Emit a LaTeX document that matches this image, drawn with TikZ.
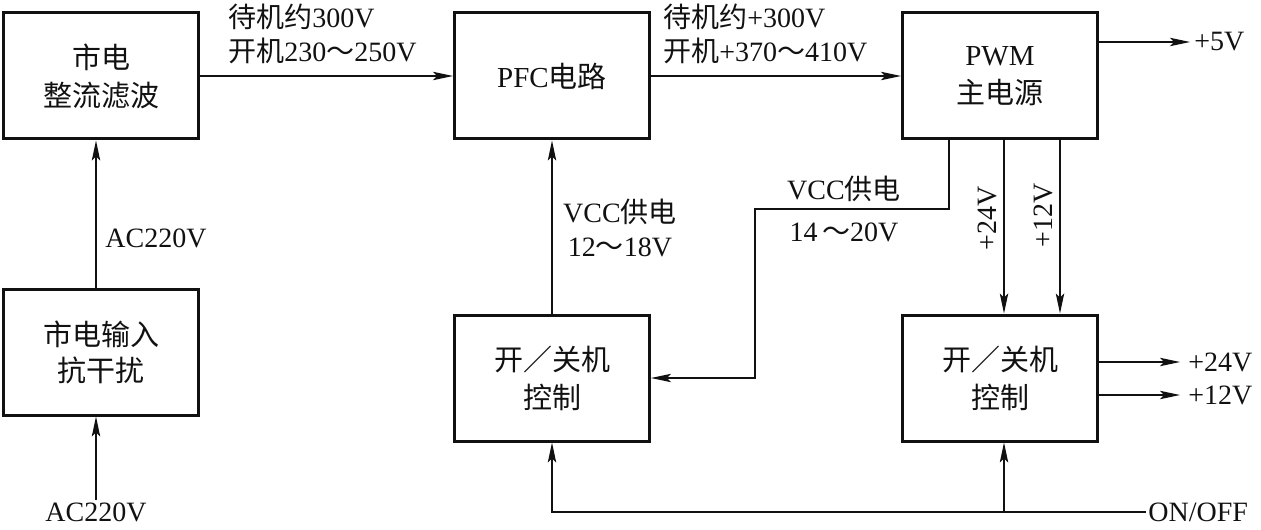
\documentclass[tikz,border=0pt]{standalone}
\usepackage{fontspec}
\usepackage{tikz}
\usetikzlibrary{arrows.meta,positioning,calc}
\setmainfont{Liberation Serif}
\newfontfamily\cjk{Noto Sans CJK SC}
\newcommand{\zh}[1]{{\cjk #1}}
\newcommand{\lblfont}{\fontsize{14}{17}\selectfont}
\newcommand{\boxfont}{\fontsize{14.5}{17}\selectfont}
\definecolor{ink}{HTML}{111111}
\tikzset{
  unit/.style={draw=ink, line width=1.5pt, minimum width=97.5pt, minimum height=63pt,
               align=center, inner sep=0pt, font=\boxfont, text=ink},
  feed/.style={-{Stealth[length=10pt,width=4.2pt,inset=2pt]}, line width=0.6pt, draw=ink},
  wire/.style={line width=0.6pt, draw=ink},
  tag/.style={font=\lblfont, inner sep=1pt, text=ink}
}

\begin{document}
\begin{tikzpicture}[x=0.5pt,y=-0.5pt]
  \useasboundingbox (0,0) rectangle (1261,529);
  \node[unit] (rect) at (101,76) {\zh{市电}\\[2pt]\zh{整流滤波}};
  \node[unit] (emi) at (101,352) {\zh{市电输入}\\[1pt]\zh{抗干扰}};
  \node[unit] (pfc) at (552,76) {PFC\zh{电路}};
  \node[unit] (pwm) at (1000,76) {PWM\\[2pt]\zh{主电源}};
  \node[unit] (ctll) at (552,378) {\zh{开／关机}\\[2pt]\zh{控制}};
  \node[unit] (ctlr) at (1000,378) {\zh{开／关机}\\[2pt]\zh{控制}};

  \node[tag] (acin) at (96,512) {AC220V};
  \draw[feed] (acin.north) -- (acin.north |- emi.south);
  \draw[feed] (acin.north |- emi.north) -- (acin.north |- rect.south);
  \node[tag,anchor=west] at (103,238) {AC220V};

  \draw[feed] (rect.east) -- (pfc.west);
  \node[tag,anchor=west,align=left] at (226,34) {\zh{待机约}300V\\\zh{开机}230\zh{～}250V};
  \draw[feed] (pfc.east) -- (pwm.west);
  \node[tag,anchor=west,align=left] at (661,34) {\zh{待机约}+300V\\\zh{开机}+370\zh{～}410V};

  \coordinate (out5) at (1190,42);
  \draw[feed] (pwm.east |- out5) -- (out5);
  \node[tag,anchor=west] at (1192,42) {+5V};

  \draw[feed] (ctll.north) -- (pfc.south);
  \node[tag,align=center] at (620,228) {VCC\zh{供电}\\12\zh{～}18V};

  \coordinate (bend) at (755,209);
  \draw[feed] ($(pwm.south west)+(48,0)$) |- (bend) |- (ctll.east);
  \node[tag,align=center] at (844,209) {VCC\zh{供电}\\[4pt]14\,\zh{～}20V};

  \path (pwm.south west) ++(103,0) coordinate (c24) ++(56,0) coordinate (c12);
  \draw[feed] (c24) -- (c24 |- ctlr.north);
  \draw[feed] (c12) -- (c12 |- ctlr.north);
  \node[tag,rotate=90] at (987,218) {+24V};
  \node[tag,rotate=90] at (1043,215) {+12V};

  \coordinate (o24) at (1180,362);
  \coordinate (o12) at (1180,395);
  \draw[feed] (ctlr.east |- o24) -- (o24);
  \draw[feed] (ctlr.east |- o12) -- (o12);
  \node[tag,anchor=west] at (1186,362) {+24V};
  \node[tag,anchor=west] at (1186,395) {+12V};

  \node[tag,anchor=west] (onoff) at (1146,512) {ON/OFF};
  \draw[feed] (onoff.west) -| (ctll.south);
  \draw[feed] (c24 |- onoff.west) -- (c24 |- ctlr.south);
\end{tikzpicture}
\end{document}
